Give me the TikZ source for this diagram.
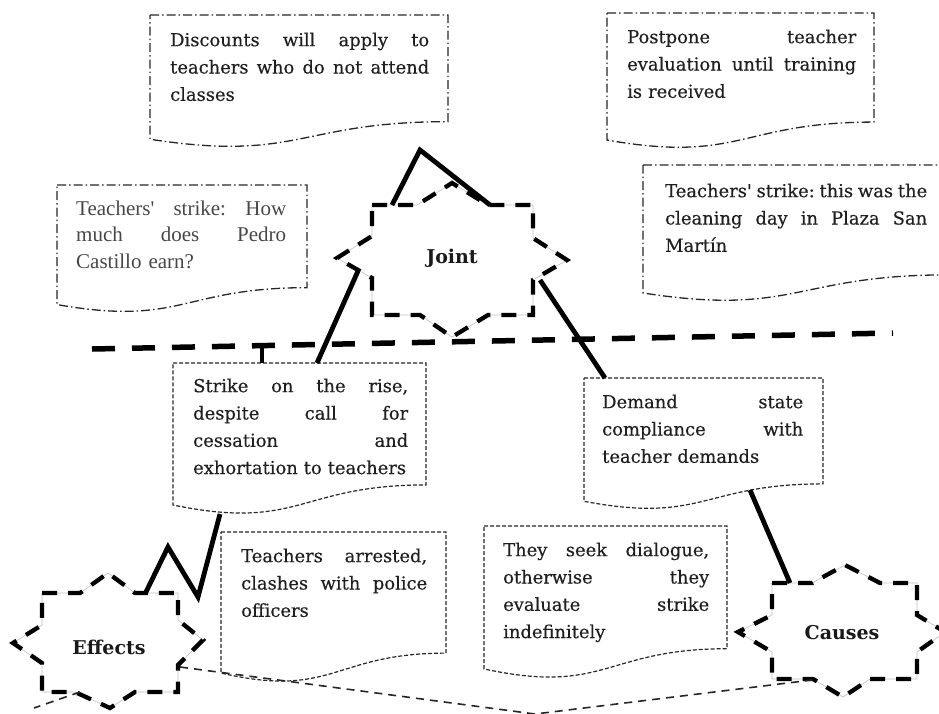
\documentclass[tikz,border=0pt]{standalone}
\usepackage{fontspec}
\newfontfamily\dvs[FakeBold=0.35]{DejaVu Serif}
\newfontfamily\dvb{DejaVu Serif Bold}
\newfontfamily\tms{Liberation Serif}
\tikzset{
  ddot/.style={line width=1.3pt, dash pattern=on 9pt off 3pt on 1.5pt off 3pt, black!85},
  dsh/.style={line width=1.2pt, dash pattern=on 4pt off 2pt, black!85},
  starline/.style={line width=4.3pt, dash pattern=on 15pt off 11pt, preaction={draw, solid, line width=0.6pt, black!25}},
  conn/.style={line width=4.8pt, line join=miter, miter limit=10},
  bigdash/.style={line width=5.5pt, dash pattern=on 23pt off 17pt},
  thindash/.style={line width=1.6pt, dash pattern=on 8pt off 6pt, black!85},
  txt/.style={inner sep=0pt, anchor=north west, align=left, text=black!88, font=\dvs\fontsize{17.9}{27.3}\selectfont},
  tmtxt/.style={inner sep=0pt, anchor=north west, align=left, text=black!72, font=\tms\fontsize{21}{26.5}\selectfont},
  lbl/.style={inner sep=0pt, text=black!90, font=\dvb\fontsize{19}{21}\selectfont},
}
% #1 x, #2 y, #3 w, #4 h, #5 style
\newcommand\docshape[5]{%
  \draw[#5] (#1,#2) -- ({#1+#3},#2) -- ({#1+#3},{#2+0.802*#4})
    .. controls ({#1+#3/2},{#2+0.802*#4}) and ({#1+#3/2},{#2+1.107*#4}) .. (#1,{#2+0.934*#4}) -- cycle;}
\begin{document}
\begin{tikzpicture}[x=1pt,y=-1pt]
\useasboundingbox (0,0) rectangle (939,713);
\clip (0,0) rectangle (939,713);

% document boxes
\docshape{150}{15}{298}{133}{ddot}
\node[txt, text width=259pt] (b1) at (170,32.4) {Discounts\hfill will\hfill apply\hfill to\\teachers\hfill who\hfill do\hfill not\hfill attend\\classes};
\docshape{607}{13}{267}{136}{ddot}
\node[txt, text width=229pt] (b2) at (627,29.4) {Postpone\hfill teacher\\evaluation\hfill until\hfill training\\is received};
\docshape{643}{165}{305}{137}{ddot}
\node[txt, text width=262pt] (b3) at (665,183.4) {Teachers\textquotesingle\hfill strike:\hfill this\hfill was\hfill the\\cleaning\hfill day\hfill in\hfill Plaza\hfill San\\Martín};
\docshape{57}{185}{250}{128}{ddot}
\node[tmtxt, text width=210pt] (b4) at (76,200.7) {Teachers\textquotesingle\hfill strike:\hfill How\\much\hfill does\hfill Pedro\\Castillo earn?};
\docshape{173}{363}{253}{152}{dsh}
\node[txt, text width=215pt] (b5) at (193,378.4) {Strike\hfill on\hfill the\hfill rise,\\despite\hfill call\hfill for\\cessation\hfill and\\exhortation to teachers};
\docshape{221}{532}{225}{151}{dsh}
\node[txt, text width=186pt] (b6) at (241,548.4) {Teachers\hfill arrested,\\clashes\hfill with\hfill police\\officers};
\docshape{584}{378}{239}{132}{dsh}
\node[txt, text width=201pt] (b7) at (602,394.4) {Demand\hfill state\\compliance\hfill with\\teacher demands};
\docshape{484}{526}{243}{153}{dsh}
\node[txt, text width=206pt] (b8) at (503,542.4) {They\hfill seek\hfill dialogue,\\otherwise\hfill they\\evaluate\hfill strike\\indefinitely};

% stars
\draw[starline] (372,205) -- (417,205) -- (452,183) -- (488,205) -- (533,205) -- (533,238) -- (567,260) -- (533,280) -- (533,315) -- (488,315) -- (452,337) -- (420,315) -- (372,315) -- (372,278) -- (337,258) -- (372,236) -- cycle;
\node[lbl] (joint) at (452,258) {Joint};
\draw[starline] (42,593) -- (80,593) -- (108,573) -- (135,593) -- (178,593) -- (178,620) -- (203,640) -- (178,665) -- (178,692) -- (135,692) -- (110,708) -- (75,692) -- (42,692) -- (42,663) -- (13,643) -- (42,625) -- cycle;
\node[lbl] (effects) at (109,647) {Effects};
\draw[starline] (772,583) -- (812,583) -- (845,565) -- (880,583) -- (917,583) -- (917,615) -- (945,632) -- (917,652) -- (917,679) -- (870,679) -- (843,697) -- (813,679) -- (772,679) -- (772,652) -- (738,632) -- (772,615) -- cycle;
\node[lbl] (causes) at (842,633) {Causes};

% separator line
\coordinate (hlA) at (92,349);
\coordinate (hlB) at (893,333);
\draw[bigdash] (hlA) -- (hlB);

% connector points
\coordinate (jA) at (392,205);
\coordinate (kA) at (420,150);
\coordinate (jB) at (490,205);
\coordinate (jL) at (358,271);
\coordinate (b5t) at (317,363);
\coordinate (jR) at (540,280);
\coordinate (b7t) at (605,378);
\coordinate (b5b) at (220,514);
\coordinate (z1) at (198,597);
\coordinate (z2) at (168,547);
\coordinate (eT) at (145,594);
\coordinate (b7b) at (750,490);
\coordinate (cT) at (790,583);
\coordinate (eR) at (180,667);
\coordinate (vB) at (535,714);
\coordinate (cB) at (812,680);
\coordinate (eB) at (80,692);
\coordinate (vL) at (34,708);
\coordinate (hT) at (262,347);
\coordinate (b5k) at (262,363);

% solid connectors
\draw[conn] (jA) -- (kA) -- (jB);
\draw[conn] (jL) -- (b5t);
\draw[conn] (jR) -- (b7t);
\draw[conn] (b5b) -- (z1) -- (z2) -- (eT);
\draw[conn] (b7b) -- (cT);
\draw[conn] (hT) -- (b5k);

% thin dashed connectors
\draw[thindash] (eR) -- (vB) -- (cB);
\draw[thindash] (eB) -- (vL);
\end{tikzpicture}
\end{document}
